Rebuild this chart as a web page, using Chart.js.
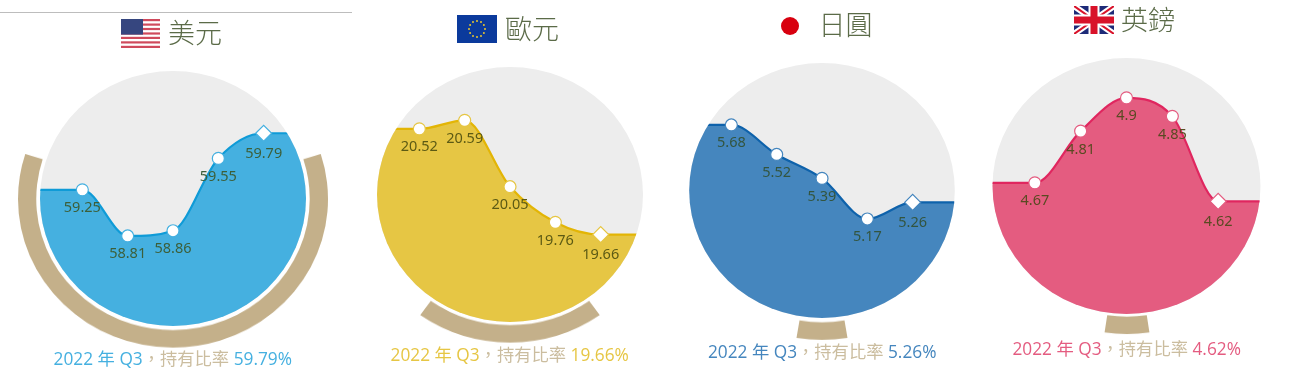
<!DOCTYPE html>
<html lang="zh-Hant">
<head>
<meta charset="utf-8">
<title>外匯存底持有比率</title>
<script src="https://cdn.jsdelivr.net/npm/chart.js@4"></script>
<style>
    html, body { margin: 0; padding: 0; background: #fff; }
    body { position: relative; width: 1292px; height: 371px; overflow: hidden; font-family: "Noto Sans CJK TC", "Noto Sans", sans-serif; }
    canvas { position: absolute; display: block; }
    .top-rule { position: absolute; left: 0; top: 12px; width: 352px; height: 1px; background: #bdbdbd; }
    .title { position: absolute; font-size: 27px; line-height: 32px; font-weight: 300; color: #5b6b48; white-space: pre; }
    .flag { position: absolute; }
    .caption { position: absolute; font-family: "Open Sans", "Noto Sans CJK SC", sans-serif; font-size: 17.3px; line-height: 22px; white-space: pre; transform: translateX(-50%); }
    .caption .middle { color: #cbbd9f; }
</style>
</head>
<body>
<div class="top-rule"></div>

<!-- 旗子 -->
<svg class="flag" style="left:121px;top:19px" width="39" height="29" viewBox="0 0 39 29">
    <rect width="39" height="29" fill="#fff"/>
    <g fill="#cf4a5c">
        <rect y="0" width="39" height="2.2"/><rect y="4.5" width="39" height="2.2"/><rect y="8.9" width="39" height="2.2"/>
        <rect y="13.4" width="39" height="2.2"/><rect y="17.8" width="39" height="2.2"/><rect y="22.3" width="39" height="2.2"/>
        <rect y="26.8" width="39" height="2.2"/>
    </g>
    <rect width="22" height="15.6" fill="#36467f"/>
</svg>
<svg class="flag" style="left:457px;top:15px" width="40" height="28" viewBox="0 0 40 28">
    <rect width="40" height="28" fill="#0b3a9c"/>
    <g fill="#e8c62e">
        <circle cx="20" cy="6" r="1"/><circle cx="24" cy="7.1" r="1"/><circle cx="26.9" cy="10" r="1"/><circle cx="28" cy="14" r="1"/>
        <circle cx="26.9" cy="18" r="1"/><circle cx="24" cy="20.9" r="1"/><circle cx="20" cy="22" r="1"/><circle cx="16" cy="20.9" r="1"/>
        <circle cx="13.1" cy="18" r="1"/><circle cx="12" cy="14" r="1"/><circle cx="13.1" cy="10" r="1"/><circle cx="16" cy="7.1" r="1"/>
    </g>
</svg>
<svg class="flag" style="left:780px;top:16px" width="20" height="20" viewBox="0 0 20 20">
    <circle cx="10" cy="10" r="9" fill="#d8000f"/>
</svg>
<svg class="flag" style="left:1074px;top:6px" width="40" height="28" viewBox="0 0 40 28">
    <rect width="40" height="28" fill="#1d2a78"/>
    <path d="M0 0L40 28M40 0L0 28" stroke="#fff" stroke-width="6"/>
    <path d="M0 0L40 28M40 0L0 28" stroke="#d8122a" stroke-width="2"/>
    <path d="M20 0V28M0 14H40" stroke="#fff" stroke-width="11"/>
    <path d="M20 0V28M0 14H40" stroke="#d8122a" stroke-width="7"/>
</svg>

<script>
// 資料
const quarters = ['', '2021 Q3', '2021 Q4', '2022 Q1', '2022 Q2', '2022 Q3', ''];
const usdValues = [59.25, 59.25, 58.81, 58.86, 59.55, 59.79, 59.79];
const eurValues = [20.52, 20.52, 20.59, 20.05, 19.76, 19.66, 19.66];
const jpyValues = [5.68, 5.68, 5.52, 5.39, 5.17, 5.26, 5.26];
const gbpValues = [4.67, 4.67, 4.81, 4.9, 4.85, 4.62, 4.62];

// 每張圖的 y 軸範圍
const usdRange = [57.951, 60.384];
const eurRange = [18.949, 21.024];
const jpyRange = [4.633, 6.016];
const gbpRange = [4.315, 5.008];

const captionYear = '2022 年 Q3';
const captionMiddle = '，持有比率 ';

const panels = [
    { name: '美元', values: usdValues, range: usdRange, fill: '#45b0e0', line: '#0f9bd7', label: '#3c5f3a', cx: 172.8, cy: 198.5, rx: 133, ry: 127.5, step: 45.3, titleX: 168, titleY: 16, capY: 348 },
    { name: '歐元', values: eurValues, range: eurRange, fill: '#e6c644', line: '#e3b505', label: '#5c5a14', cx: 509.7, cy: 194.2, rx: 133, ry: 127.5, step: 45.3, titleX: 505, titleY: 12, capY: 344 },
    { name: '日圓', values: jpyValues, range: jpyRange, fill: '#4586be', line: '#0e62ab', label: '#33553f', cx: 822.2, cy: 190.8, rx: 132.8, ry: 127.5, step: 45.3, titleX: 818.5, titleY: 8, capY: 341 },
    { name: '英鎊', values: gbpValues, range: gbpRange, fill: '#e45c80', line: '#e0265f', label: '#5a4a22', cx: 1126.7, cy: 186.3, rx: 134, ry: 128, step: 45.8, titleX: 1121, titleY: 3, capY: 338 }
];

const RING_OUTER = 155;
const RING_INNER = 138.5;

// 灰底圓，資料線只畫在圓裡面
const discPlugin = {
    id: 'disc',
    beforeDatasetsDraw(chart, args, opts) {
        const { ctx, chartArea: a } = chart;
        const x = (a.left + a.right) / 2;
        const y = (a.top + a.bottom) / 2;
        ctx.save();
        ctx.beginPath();
        ctx.ellipse(x, y, opts.rx, opts.ry, 0, 0, Math.PI * 2);
        ctx.fillStyle = '#ededed';
        ctx.fill();
        ctx.clip();
    },
    afterDatasetsDraw(chart) {
        chart.ctx.restore();
    }
};

// 資料標籤（點的下方）
const valueLabelPlugin = {
    id: 'valueLabels',
    afterDraw(chart, args, opts) {
        const { ctx } = chart;
        const meta = chart.getDatasetMeta(0);
        const values = chart.data.datasets[0].data;
        ctx.save();
        ctx.font = '14.5px "Noto Sans", sans-serif';
        ctx.fillStyle = opts.color;
        ctx.textAlign = 'center';
        ctx.textBaseline = 'middle';
        meta.data.forEach((pt, i) => {
            if (i === 0 || i === values.length - 1) return;
            const off = i === values.length - 2 ? 20.5 : 18.3;
            ctx.fillText(String(values[i]), pt.x, pt.y + off);
        });
        ctx.restore();
    }
};

function addText(p) {
    const title = document.createElement('div');
    title.className = 'title';
    title.style.left = p.titleX + 'px';
    title.style.top = p.titleY + 'px';
    title.textContent = p.name;
    document.body.appendChild(title);

    const last = p.values[p.values.length - 2];
    const cap = document.createElement('div');
    cap.className = 'caption';
    cap.style.left = p.cx + 'px';
    cap.style.top = p.capY + 'px';
    cap.style.color = p.fill;
    const a = document.createElement('span');
    a.textContent = captionYear;
    const b = document.createElement('span');
    b.className = 'middle';
    b.textContent = captionMiddle;
    const c = document.createElement('span');
    c.textContent = last + '%';
    cap.append(a, b, c);
    document.body.appendChild(cap);
}

function createRing(p) {
    const share = p.values[p.values.length - 2];
    const size = 2 * RING_OUTER + 4;
    const canvas = document.createElement('canvas');
    canvas.width = size;
    canvas.height = size;
    canvas.style.width = size + 'px';
    canvas.style.height = size + 'px';
    canvas.style.left = (p.cx - size / 2) + 'px';
    canvas.style.top = (p.cy - size / 2) + 'px';
    canvas.style.transform = `scaleY(${p.ry / p.rx})`;
    document.body.appendChild(canvas);
    new Chart(canvas, {
        type: 'doughnut',
        data: {
            labels: [p.name, ''],
            datasets: [{
                data: [share, 100 - share],
                backgroundColor: ['#c4b08a', 'rgba(0,0,0,0)'],
                borderWidth: 0
            }]
        },
        options: {
            responsive: false,
            animation: false,
            radius: RING_OUTER,
            cutout: RING_INNER,
            rotation: 180 - share * 3.6 / 2,
            plugins: { legend: { display: false }, tooltip: { enabled: false } }
        }
    });
}

function createWave(p) {
    const w = p.step * 6;
    const h = p.ry * 2;
    const canvas = document.createElement('canvas');
    canvas.width = Math.round(w);
    canvas.height = Math.round(h);
    canvas.style.width = Math.round(w) + 'px';
    canvas.style.height = Math.round(h) + 'px';
    canvas.style.left = Math.round(p.cx - w / 2) + 'px';
    canvas.style.top = Math.round(p.cy - p.ry) + 'px';
    document.body.appendChild(canvas);
    const lastIdx = p.values.length - 1;
    new Chart(canvas, {
        type: 'line',
        data: {
            labels: quarters,
            datasets: [{
                data: p.values,
                fill: 'start',
                backgroundColor: p.fill,
                borderColor: p.line,
                borderWidth: 2.2,
                cubicInterpolationMode: 'monotone',
                pointStyle: p.values.map((_, i) => i === lastIdx - 1 ? 'rectRot' : 'circle'),
                pointRadius: p.values.map((_, i) => (i === 0 || i === lastIdx) ? 0 : (i === lastIdx - 1 ? 8 : 6)),
                pointBackgroundColor: '#fff',
                pointBorderColor: p.fill,
                pointBorderWidth: 1.2
            }]
        },
        options: {
            responsive: false,
            animation: false,
            layout: { padding: 0 },
            scales: {
                x: { display: false },
                y: { display: false, min: p.range[0], max: p.range[1] }
            },
            plugins: {
                legend: { display: false },
                tooltip: { enabled: false },
                disc: { rx: p.rx, ry: p.ry },
                valueLabels: { color: p.label }
            }
        },
        plugins: [discPlugin, valueLabelPlugin]
    });
}

panels.forEach(p => {
    createRing(p);
    createWave(p);
    addText(p);
});
</script>
</body>
</html>
